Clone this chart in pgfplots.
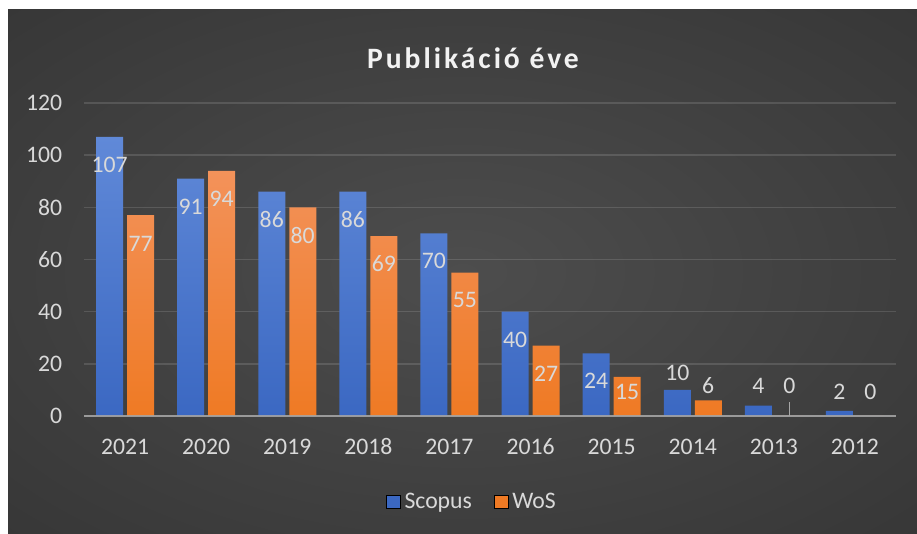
\documentclass[border=0pt]{standalone}
\usepackage{pgfplots}
\pgfplotsset{compat=1.18}
\usepackage{fontspec}
\setmainfont{Carlito}
\definecolor{lbl}{HTML}{D9D9D9}
\definecolor{bgin}{HTML}{4D4D4D}
\definecolor{bgout}{HTML}{282828}
\definecolor{btop}{HTML}{6089D8}
\definecolor{bbot}{HTML}{3B68C2}
\definecolor{otop}{HTML}{F3925A}
\definecolor{obot}{HTML}{EF7A24}
\pgfdeclareradialshading{bgshade}{\pgfpoint{0bp}{0bp}}{color(0bp)=(bgin); color(60bp)=(bgout); color(72bp)=(bgout)}
\newcommand\lblfont{\fontsize{11.85pt}{14pt}\selectfont}
\pgfplotstableread{
x y
0 107
1 91
2 86
3 86
4 70
5 40
6 24
7 10
8 4
9 2
}\scopus
\pgfplotstableread{
x y
0 77
1 94
2 80
3 69
4 55
5 27
6 15
7 6
8 0
9 0
}\wos
\pgfplotstableread{
x y label
-0.191 96.4 107
0.191 65.8 77
0.809 80.3 91
1.191 83.2 94
1.809 75.3 86
2.191 69.3 80
2.809 75.3 86
3.191 58.3 69
3.809 59.3 70
4.191 44.3 55
4.809 29.0 40
5.191 16.3 27
5.809 13.4 24
6.191 9.4 15
6.809 16.7 10
7.191 11.7 6
7.809 11.7 4
8.191 11.7 0
8.809 9.2 2
9.191 9.2 0
}\labels
\begin{document}
\begin{tikzpicture}
\path[use as bounding box] (0,0) rectangle (458.5pt,267pt);
\fill[white] (0,0) rectangle (458.5pt,267pt);
\shade[shading=bgshade] (4pt,0) rectangle (458.5pt,262pt);
\begin{axis}[
  at={(42.25pt,59pt)}, anchor=south west,
  scale only axis, width=405.5pt, height=156.5pt,
  xmin=-0.5, xmax=9.5, ymin=0, ymax=120,
  axis line style={draw=none},
  xtick={0,...,9},
  xticklabels={2021,2020,2019,2018,2017,2016,2015,2014,2013,2012},
  ytick={0,20,...,120},
  major tick length=0pt,
  ymajorgrids, grid style={white, opacity=0.13, line width=0.8pt},
  /pgf/number format/assume math mode=true,
  tick label style={font=\lblfont, text=lbl},
  yticklabel style={anchor=east, inner sep=0pt, xshift=-11pt},
  xticklabel style={anchor=center, inner sep=0pt, yshift=-15.5pt},
  legend columns=2,
  legend style={draw=none, fill=none, at={(0.479,-0.275)}, anchor=center,
    font=\lblfont, text=lbl, /tikz/every even column/.append style={column sep=9pt}},
  clip=false,
]
\addplot[ybar, bar width=13.5pt, bar shift=-7.75pt, draw=none, top color=btop, bottom color=bbot, forget plot] table[x=x,y=y] {\scopus};
\addplot[ybar, bar width=13.5pt, bar shift=7.75pt, draw=none, top color=otop, bottom color=obot, forget plot] table[x=x,y=y] {\wos};
\addplot[color=white!65!black, opacity=0.85, line width=1.2pt, forget plot] coordinates {(-0.5,0) (9.5,0)};
\addplot[color=white!65!black, line width=0.8pt, forget plot] coordinates {(8.191,0) (8.191,5.4)};
\addplot[draw=none, mark=none, forget plot, nodes near coords, point meta=explicit symbolic,
  every node near coord/.style={font=\lblfont, text=lbl, anchor=center, inner sep=0pt}]
  table[x=x,y=y,meta=label] {\labels};
\addlegendimage{legend image code/.code={\fill[fill=bbot] (-1pt,-3.4pt) rectangle (5.8pt,3.4pt);}}
\addlegendentry{Scopus}
\addlegendimage{legend image code/.code={\fill[fill=obot] (-1pt,-3.4pt) rectangle (5.8pt,3.4pt);}}
\addlegendentry{WoS}
\end{axis}
\node[font=\fontsize{14.8pt}{17pt}\selectfont\bfseries\addfontfeature{LetterSpace=10}, text=white!95!black] at (236.5pt,238pt) {Publikáció éve};
\end{tikzpicture}
\end{document}
